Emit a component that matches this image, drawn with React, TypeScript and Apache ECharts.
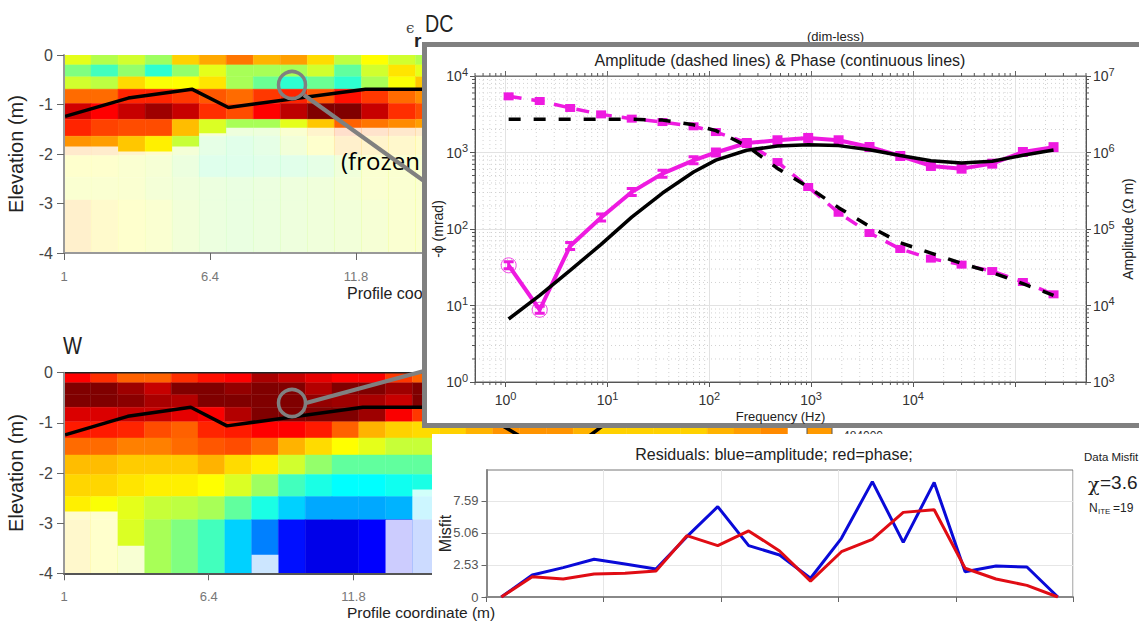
import React, { useEffect, useRef } from "react";
import * as echarts from "echarts";

const rowEdges = [0, -0.2, -0.44, -0.69, -0.98, -1.3, -1.64, -2.03, -2.47, -2.93, -4];

const permittivityRows = [
  [0.6, 0.55, 0.58, 0.53, 0.67, 0.71, 0.76, 0.7, 0.72, 0.66, 0.56, 0.625, 0.58, 0.55],
  [0.5, 0.44, 0.52, 0.42, 0.52, 0.6, 0.54, 0.54, 0.54, 0.58, 0.47, 0.58, 0.65, 0.6],
  [0.58, 0.56, 0.66, 0.62, 0.625, 0.65, 0.54, 0.48, 0.42, 0.48, 0.42, 0.54, 0.62, 0.68],
  [0.77, 0.77, 0.84, 0.84, 0.82, 0.79, 0.77, 0.82, 0.84, 0.79, 0.86, 0.82, 0.77, 0.74],
  [0.92, 0.875, 0.93, 0.97, 0.93, 0.83, 0.8, 0.875, 0.94, 1, 1, 0.93, 0.83, 0.8],
  [0.84, 0.81, 0.8, 0.8, 0.69, 0.59, 0.54, 0.54, 0.6, 0.68, 0.78, 0.76, 0.74, 0.72],
  [0.73, 0.72, 0.68, 0.64, 0.57, 0.5, 0.48, 0.5, 0.56, 0.62, 0.7, 0.68, 0.66, 0.64],
  [0.62, 0.62, 0.6, 0.58, 0.53, 0.47, 0.47, 0.48, 0.48, 0.5, 0.55, 0.6, 0.6, 0.6],
  [0.6, 0.6, 0.6, 0.57, 0.55, 0.53, 0.52, 0.53, 0.54, 0.55, 0.57, 0.6, 0.6, 0.6],
  [0.7, 0.65, 0.62, 0.6, 0.56, 0.53, 0.52, 0.53, 0.54, 0.55, 0.56, 0.58, 0.6, 0.6],
];
const permittivityMaskTop = [-1.85, -1.85, -1.95, -1.95, -1.85, -1.58, -1.47, -1.47, -1.47, -1.47, -1.47, -1.47, -1.47, -1.47];

const waterRows = [
  [0.875, 0.83, 0.78, 0.78, 0.83, 0.86, 0.875, 0.96, 0.93, 0.9, 0.875, 0.88, 0.82, 0.78],
  [1, 1, 0.97, 0.93, 1, 1, 0.98, 1, 1, 0.95, 1, 1, 0.97, 1],
  [1, 1, 0.99, 0.96, 0.95, 1, 1, 1, 1, 0.98, 0.97, 0.96, 0.93, 1],
  [0.91, 0.91, 0.93, 0.93, 0.9, 0.88, 0.95, 1, 1, 1, 1, 0.97, 0.88, 0.82],
  [0.85, 0.85, 0.84, 0.8, 0.78, 0.84, 0.85, 0.875, 0.875, 0.85, 0.78, 0.7, 0.67, 0.66,
    0.67, 0.7, 0.73, 0.73, 0.73, 0.7, 0.67, 0.67, 0.67, 0.67, 0.7, 0.72, 0.74],
  [0.77, 0.77, 0.75, 0.75, 0.77, 0.79, 0.8, 0.77, 0.7, 0.66, 0.625, 0.6, 0.57, 0.57],
  [0.69, 0.69, 0.675, 0.675, 0.675, 0.7, 0.66, 0.64, 0.58, 0.52, 0.47, 0.47, 0.47, 0.47],
  [0.665, 0.665, 0.65, 0.64, 0.64, 0.625, 0.59, 0.53, 0.44, 0.4, 0.375, 0.375, 0.39, 0.4],
  [0.64, 0.62, 0.6, 0.57, 0.56, 0.54, 0.47, 0.4, 0.33, 0.29, 0.29, 0.29, 0.3, 0.33],
  [0.66, 0.625, 0.59, 0.54, 0.5, 0.44, 0.33, 0.25, 0.14, 0.1, 0.1, 0.125, 0.12, 0.2],
];
const waterMaskTop = [-2.77, -2.77, -3.45, -4, -4, -4, -4, -3.63, -4, -4, -4, -4, -2.93, -2.33];

const profileX = [1.04, 3.38, 5.73, 7.08, 12.15, 16.2, 18.5, 20.2, 21, 22, 27];
const profileElevation = [-1.24, -0.87, -0.69, -1.06, -0.69, -0.69, -1.42, -1.42, -1.1, -0.75, -0.75];

const freqs = [1.07, 2.16, 4.3, 8.66, 17.3, 34.7, 70, 116, 233, 467, 935, 1860, 3740, 7500, 15000, 30000, 60000, 120000, 240000];
const ampMeasured = [5.42e6, 4.71e6, 3.82e6, 3.15e6, 2.77e6, 2.5e6, 2.2e6, 1.85e6, 1.34e6, 7.5e5, 3.54e5, 1.63e5, 8.87e4, 5.48e4, 4.1e4, 3.42e4, 2.82e4, 2.03e4, 1.4e4];
const ampModel = [2.72e6, 2.72e6, 2.72e6, 2.72e6, 2.72e6, 2.65e6, 2.3e6, 1.93e6, 1.22e6, 6.2e5, 3.55e5, 1.9e5, 1.08e5, 6.6e4, 4.85e4, 3.55e4, 2.7e4, 1.93e4, 1.36e4];
const phaseMeasured = [33.5, 8.8, 60, 141, 305, 529, 790, 1000, 1330, 1445, 1550, 1445, 1180, 900, 667, 615, 715, 1015, 1175];
const phaseModel = [6.66, 13.6, 28.8, 63, 143, 295, 556, 794, 1070, 1216, 1262, 1230, 1089, 912, 782, 730, 767, 918, 1075];

const residualPoints = [1, 2, 3, 4, 5, 6, 7, 8, 9, 10, 11, 12, 13, 14, 15, 16, 17, 18, 19];
const residualAmplitude = [0, 1.74, 2.32, 2.98, 2.61, 2.21, 4.77, 7.14, 4.06, 3.32, 1.48, 4.64, 9.12, 4.32, 9.06, 2.0, 2.45, 2.37, 0];
const residualPhase = [0, 1.61, 1.42, 1.82, 1.87, 2.06, 4.85, 4.06, 5.22, 3.64, 1.26, 3.58, 4.56, 6.69, 6.9, 2.27, 1.42, 0.92, 0];
const residualYTicks = [0, 2.53, 5.06, 7.59];
const residualXTicks = [0.52, 4.31, 8.1, 11.9, 15.7, 19.49];

const profileTicks = [1, 6.4, 11.8];
const freqDecades = [1, 10, 100, 1000, 10000, 100000];
const phaseDecades = [1, 10, 100, 1000, 10000];
const ampDecades = [1000, 10000, 100000, 1000000, 10000000];

const FRAME = "#808080";
const MAGENTA = "#ee1ae0";
const SANS = "Liberation Sans";

function jet(v: number): string {
  const stops: [number, number[]][] = [
    [0, [0, 0, 143]], [0.125, [0, 0, 255]], [0.375, [0, 255, 255]],
    [0.625, [255, 255, 0]], [0.875, [255, 0, 0]], [1, [128, 0, 0]],
  ];
  for (let i = 1; i < stops.length; i++) {
    if (v <= stops[i][0]) {
      const t = (v - stops[i - 1][0]) / (stops[i][0] - stops[i - 1][0]);
      const c = stops[i - 1][1].map((a, k) => Math.round(a + (stops[i][1][k] - a) * t));
      return `rgb(${c[0]},${c[1]},${c[2]})`;
    }
  }
  return "rgb(128,0,0)";
}

function cellData(rows: number[][]) {
  const out: number[][] = [];
  rows.forEach((row, r) => row.forEach((v, c) => out.push([c + 1, rowEdges[r], rowEdges[r + 1], v])));
  return out;
}

function renderCell(_: any, api: any) {
  const a = api.coord([api.value(0), api.value(1)]);
  const b = api.coord([api.value(0) + 1, api.value(2)]);
  const fill = jet(api.value(3));
  return {
    type: "rect",
    shape: { x: a[0], y: a[1], width: b[0] - a[0], height: b[1] - a[1] },
    style: { fill, stroke: fill, lineWidth: 0.4 },
  };
}

function renderMask(_: any, api: any) {
  const a = api.coord([api.value(0), api.value(1)]);
  const b = api.coord([api.value(0) + 1, -4]);
  return {
    type: "rect",
    shape: { x: a[0], y: a[1], width: b[0] - a[0], height: b[1] - a[1] },
    style: { fill: "rgba(255,255,255,0.8)" },
  };
}

const minorSteps = [2, 3, 4, 5, 6, 7, 8, 9];
function minorValues(from: number, to: number, lo: number, hi: number) {
  const out: number[] = [];
  for (let e = from; e <= to; e++) {
    minorSteps.forEach((m) => {
      const v = m * Math.pow(10, e);
      if (v >= lo && v <= hi) out.push(v);
    });
  }
  return out;
}

function renderLogMinor(params: any, api: any) {
  const cs = params.coordSys;
  const isX = api.value(2) === 0;
  const p = api.coord([api.value(0), api.value(1)]);
  const dotted = { stroke: "#d2d2d2", lineWidth: 1, lineDash: [1, 3] };
  const tick = { stroke: "#555", lineWidth: 1 };
  const children = isX
    ? [
        { type: "line", shape: { x1: p[0], y1: cs.y, x2: p[0], y2: cs.y + cs.height }, style: dotted },
        { type: "line", shape: { x1: p[0], y1: cs.y, x2: p[0], y2: cs.y - 3 }, style: tick },
        { type: "line", shape: { x1: p[0], y1: cs.y + cs.height, x2: p[0], y2: cs.y + cs.height + 3 }, style: tick },
      ]
    : [
        { type: "line", shape: { x1: cs.x, y1: p[1], x2: cs.x + cs.width, y2: p[1] }, style: dotted },
        { type: "line", shape: { x1: cs.x, y1: p[1], x2: cs.x - 3, y2: p[1] }, style: tick },
        { type: "line", shape: { x1: cs.x + cs.width, y1: p[1], x2: cs.x + cs.width + 3, y2: p[1] }, style: tick },
      ];
  return { type: "group", children };
}

function powerLabel(v: number) {
  return `{b|10}{s|${Math.round(Math.log10(v))}}`;
}
const powerRich = {
  b: { fontSize: 14, color: "#333", fontFamily: SANS },
  s: { fontSize: 11, color: "#333", fontFamily: SANS, padding: [0, 0, 9, 0] },
};

const heatXAxis = (gridIndex: number, lineColor: string) => ({
  type: "value", gridIndex, min: 1, max: 28, z: 3,
  axisLine: { show: true, onZero: false, lineStyle: { color: lineColor, width: 2 } },
  axisTick: { show: true, length: 7, lineStyle: { color: "#666" }, customValues: profileTicks },
  axisLabel: { show: true, customValues: profileTicks, margin: 17, fontSize: 13, color: "#777", fontFamily: SANS, formatter: (v: number) => String(v) },
  splitLine: { show: false },
});

const heatYAxis = (gridIndex: number) => ({
  type: "value", gridIndex, min: -4, max: 0, interval: 1, z: 3,
  name: "Elevation (m)", nameLocation: "middle", nameGap: 38, nameMoveOverlap: false,
  nameTextStyle: { fontSize: 20, color: "#222", fontFamily: SANS },
  axisLine: { show: true, onZero: false, lineStyle: { color: "#999", width: 2 } },
  axisTick: { show: true, length: 7, lineStyle: { color: "#666" } },
  axisLabel: { fontSize: 16, color: "#444", margin: 11, fontFamily: SANS },
  splitLine: { show: false },
});

const text = (x: number, y: number, t: string, o: any = {}, z = 3, scaleX = 1) => ({
  type: "text", x, y, z, scaleX,
  style: { text: t, fill: "#222", fontFamily: SANS, fontSize: 13, textAlign: "left", textVerticalAlign: "middle", ...o },
});

export default function App() {
  const ref = useRef<HTMLDivElement>(null);
  useEffect(() => {
    const chart = echarts.init(ref.current!, undefined, { renderer: "svg" });
    const minorData = [
      ...minorValues(-1, 5, 0.5, 5e5).map((v) => [v, 1, 0]),
      ...minorValues(0, 3, 1, 1e4).map((v) => [1, v, 1]),
    ];
    const iBeam = "path://M0,0H10V3H6.5V7H10V10H0V7H3.5V3H0Z";
    chart.setOption({
      animation: false,
      backgroundColor: "#fff",
      grid: [
        { left: 64, top: 55, width: 730, height: 198, outerBoundsMode: "none" },
        { left: 64, top: 372.7, width: 723.6, height: 200.6, outerBoundsMode: "none" },
        { left: 475, top: 76, width: 611, height: 306, outerBoundsMode: "none", show: true, z: 5, borderColor: "#666", borderWidth: 1, backgroundColor: "transparent" },
        { left: 486.5, top: 470, width: 586.5, height: 127, outerBoundsMode: "none", show: true, z: 5, borderColor: "#777", borderWidth: 1, backgroundColor: "transparent" },
      ],
      xAxis: [
        heatXAxis(0, "#999"),
        heatXAxis(1, "#555"),
        {
          type: "log", gridIndex: 2, min: 0.5, max: 5e5, z: 6,
          name: "Frequency (Hz)", nameLocation: "middle", nameGap: 28, nameMoveOverlap: false,
          nameTextStyle: { fontSize: 13, color: "#222", fontFamily: SANS },
          axisLine: { show: true, onZero: false, lineStyle: { color: "#555" } },
          axisTick: { show: true, length: 5, lineStyle: { color: "#555" }, customValues: freqDecades },
          axisLabel: { customValues: freqDecades.slice(0, 5), margin: 8, formatter: powerLabel, rich: powerRich },
          splitLine: { show: true, lineStyle: { color: "#e2e2e2" } },
        },
        {
          type: "log", gridIndex: 2, min: 0.5, max: 5e5, position: "top", z: 6,
          axisLine: { show: true, onZero: false, lineStyle: { color: "#777" } },
          axisTick: { show: true, length: 5, lineStyle: { color: "#666" }, customValues: freqDecades },
          axisLabel: { show: false },
          splitLine: { show: false },
        },
        {
          type: "value", gridIndex: 3, min: 0.52, max: 19.49, z: 6,
          axisLine: { show: true, onZero: false, lineStyle: { color: "#888", width: 2 } },
          axisTick: { show: true, length: 5, lineStyle: { color: "#666" }, customValues: residualXTicks },
          axisLabel: { show: false },
          splitLine: { show: true, lineStyle: { color: "#e6e6e6" } },
        },
      ],
      yAxis: [
        heatYAxis(0),
        heatYAxis(1),
        {
          type: "log", gridIndex: 2, min: 1, max: 1e4, z: 6,
          name: "-\u03d5 (mrad)", nameLocation: "middle", nameGap: 30, nameMoveOverlap: false,
          nameTextStyle: { fontSize: 14, color: "#222", fontFamily: SANS },
          axisLine: { show: true, onZero: false, lineStyle: { color: "#555" } },
          axisTick: { show: true, length: 5, lineStyle: { color: "#555" }, customValues: phaseDecades },
          axisLabel: { customValues: phaseDecades, margin: 7, formatter: powerLabel, rich: powerRich },
          splitLine: { show: true, lineStyle: { color: "#e2e2e2" } },
        },
        {
          type: "log", gridIndex: 2, min: 1e3, max: 1e7, position: "right", z: 6,
          name: "Amplitude (\u03a9 m)", nameLocation: "middle", nameGap: 35, nameMoveOverlap: false,
          nameTextStyle: { fontSize: 14, color: "#222", fontFamily: SANS },
          axisLine: { show: true, onZero: false, lineStyle: { color: "#555" } },
          axisTick: { show: true, length: 5, lineStyle: { color: "#555" }, customValues: ampDecades },
          axisLabel: { customValues: ampDecades, margin: 7, formatter: powerLabel, rich: powerRich },
          splitLine: { show: false },
        },
        {
          type: "value", gridIndex: 3, min: 0, max: 10.04, z: 6,
          name: "Misfit", nameLocation: "middle", nameGap: 33, nameRotate: 90, nameMoveOverlap: false,
          nameTextStyle: { fontSize: 16, color: "#222", fontFamily: SANS },
          axisLine: { show: true, onZero: false, lineStyle: { color: "#888", width: 2 } },
          axisTick: { show: true, length: 5, lineStyle: { color: "#666" }, customValues: residualYTicks },
          axisLabel: { customValues: residualYTicks, margin: 8, fontSize: 13, color: "#555", fontFamily: SANS, formatter: (v: number) => String(v) },
          splitLine: { show: true, lineStyle: { color: "#e6e6e6" } },
        },
      ],
      series: [
        { type: "custom", name: "permittivity", xAxisIndex: 0, yAxisIndex: 0, z: 1, clip: true, renderItem: renderCell, encode: { x: 0, y: [1, 2] }, data: cellData(permittivityRows) },
        { type: "custom", name: "permittivity mask", xAxisIndex: 0, yAxisIndex: 0, z: 1.5, clip: true, renderItem: renderMask, encode: { x: 0, y: 1 }, data: permittivityMaskTop.map((t, i) => [i + 1, t]) },
        { type: "custom", name: "water", xAxisIndex: 1, yAxisIndex: 1, z: 1, clip: true, renderItem: renderCell, encode: { x: 0, y: [1, 2] }, data: cellData(waterRows) },
        { type: "custom", name: "water mask", xAxisIndex: 1, yAxisIndex: 1, z: 1.5, clip: true, renderItem: renderMask, encode: { x: 0, y: 1 }, data: waterMaskTop.map((t, i) => [i + 1, t]) },
        { type: "line", name: "profile top", xAxisIndex: 0, yAxisIndex: 0, z: 2, symbol: "none", lineStyle: { color: "#000", width: 3.5 }, data: profileX.map((x, i) => [x, profileElevation[i]]) },
        { type: "line", name: "profile bottom", xAxisIndex: 1, yAxisIndex: 1, z: 2, symbol: "none", lineStyle: { color: "#000", width: 3.5 }, data: profileX.map((x, i) => [x, profileElevation[i]]) },

        { type: "custom", name: "minor", xAxisIndex: 2, yAxisIndex: 2, z: 5.5, clip: false, silent: true, renderItem: renderLogMinor, encode: { x: 0, y: 1 }, data: minorData },
        {
          type: "line", name: "amplitude data", xAxisIndex: 2, yAxisIndex: 3, z: 7,
          symbol: "rect", symbolSize: [10, 8], itemStyle: { color: MAGENTA },
          lineStyle: { color: MAGENTA, width: 3.5, type: [13, 10] },
          data: freqs.map((f, i) => [f, ampMeasured[i]]),
        },
        {
          type: "line", name: "phase data", xAxisIndex: 2, yAxisIndex: 2, z: 7,
          symbol: (_: any, p: any) => (p.dataIndex < 7 ? iBeam : "rect"), symbolSize: 10, symbolKeepAspect: true,
          itemStyle: { color: MAGENTA },
          lineStyle: { color: MAGENTA, width: 4 },
          data: freqs.map((f, i) => [f, phaseMeasured[i]]),
        },
        {
          type: "scatter", name: "rejected", xAxisIndex: 2, yAxisIndex: 2, z: 7,
          symbol: "circle", symbolSize: 15,
          itemStyle: { color: "transparent", borderColor: MAGENTA, borderWidth: 1 },
          data: [0, 1].map((i) => [freqs[i], phaseMeasured[i]]),
        },
        {
          type: "line", name: "amplitude model", xAxisIndex: 2, yAxisIndex: 3, z: 8, symbol: "none",
          lineStyle: { color: "#000", width: 3.5, type: [12, 13] },
          data: freqs.map((f, i) => [f, ampModel[i]]),
        },
        {
          type: "line", name: "phase model", xAxisIndex: 2, yAxisIndex: 2, z: 8, symbol: "none",
          lineStyle: { color: "#000", width: 3.5 },
          data: freqs.map((f, i) => [f, phaseModel[i]]),
        },

        { type: "line", name: "residual amplitude", xAxisIndex: 4, yAxisIndex: 4, z: 7, symbol: "none", lineStyle: { color: "#0a0ad8", width: 3 }, data: residualPoints.map((x, i) => [x, residualAmplitude[i]]) },
        { type: "line", name: "residual phase", xAxisIndex: 4, yAxisIndex: 4, z: 7, symbol: "none", lineStyle: { color: "#e00c14", width: 3 }, data: residualPoints.map((x, i) => [x, residualPhase[i]]) },
      ],
      graphic: [
        { type: "line", z: 3, shape: { x1: 64, y1: 372.7, x2: 432, y2: 372.7 }, style: { stroke: "#222", lineWidth: 1.5 } },
        text(341, 160, "(frozen", { fontFamily: "Open Sans", fontSize: 24, fill: "#000" }, 3),
        { type: "line", z: 3.2, shape: { x1: 304, y1: 95, x2: 424, y2: 181 }, style: { stroke: FRAME, lineWidth: 4 } },
        { type: "line", z: 3.2, shape: { x1: 306, y1: 403, x2: 424, y2: 371 }, style: { stroke: FRAME, lineWidth: 4 } },
        { type: "circle", z: 3.2, shape: { cx: 292, cy: 85, r: 13.5 }, style: { stroke: FRAME, lineWidth: 3.5, fill: "transparent" } },
        { type: "circle", z: 3.2, shape: { cx: 292, cy: 403, r: 13.5 }, style: { stroke: FRAME, lineWidth: 3.5, fill: "transparent" } },
        text(347, 293, "Profile coo", { fontSize: 16 }, 3),
        text(63, 346, "W", { fontSize: 24 }, 3, 0.84),
        text(406, 28, "\u03f5", { fontFamily: "DejaVu Serif", fontSize: 15, fill: "#444" }, 3),
        text(414, 40, "r", { fontSize: 19, fontWeight: "bold", fill: "#222" }, 3),
        text(425, 24, "DC", { fontSize: 24 }, 3, 0.82),
        text(807, 36, "(dim-less)", { fontSize: 13 }, 3),
        { type: "rect", z: 1, shape: { x: 807, y: 426, width: 25, height: 10 }, style: { fill: "#ff9a00", stroke: "#555", lineWidth: 1 } },
        text(843, 436, "484000", { fontSize: 12, fill: "#333" }, 1),

        { type: "rect", z: 4, shape: { x: 432, y: 434, width: 707, height: 187 }, style: { fill: "#fff" } },
        { type: "rect", z: 4, shape: { x: 424.5, y: 44.5, width: 720, height: 381 }, style: { fill: "#fff", stroke: FRAME, lineWidth: 5 } },

        text(780, 60, "Amplitude (dashed lines) & Phase (continuous lines)", { fontSize: 16, textAlign: "center" }, 9),
        text(774, 454, "Residuals: blue=amplitude; red=phase;", { fontSize: 16, textAlign: "center" }, 9),
        text(347, 612, "Profile coordinate (m)", { fontSize: 15.5 }, 9),
        text(1084, 457, "Data Misfit", { fontSize: 11.5 }, 9),
        text(1088, 484, "\u03c7", { fontFamily: "DejaVu Serif", fontSize: 19 }, 9),
        text(1100, 482, "=3.6", { fontSize: 19 }, 9),
        text(1089, 508, "N", { fontSize: 12 }, 9),
        text(1098, 511, "ITE", { fontSize: 8 }, 9),
        text(1113, 508, "=19", { fontSize: 12 }, 9),
      ],
    });
    return () => chart.dispose();
  }, []);
  return <div ref={ref} style={{ position: "fixed", left: 0, top: 0, width: 1139, height: 621 }} />;
}
